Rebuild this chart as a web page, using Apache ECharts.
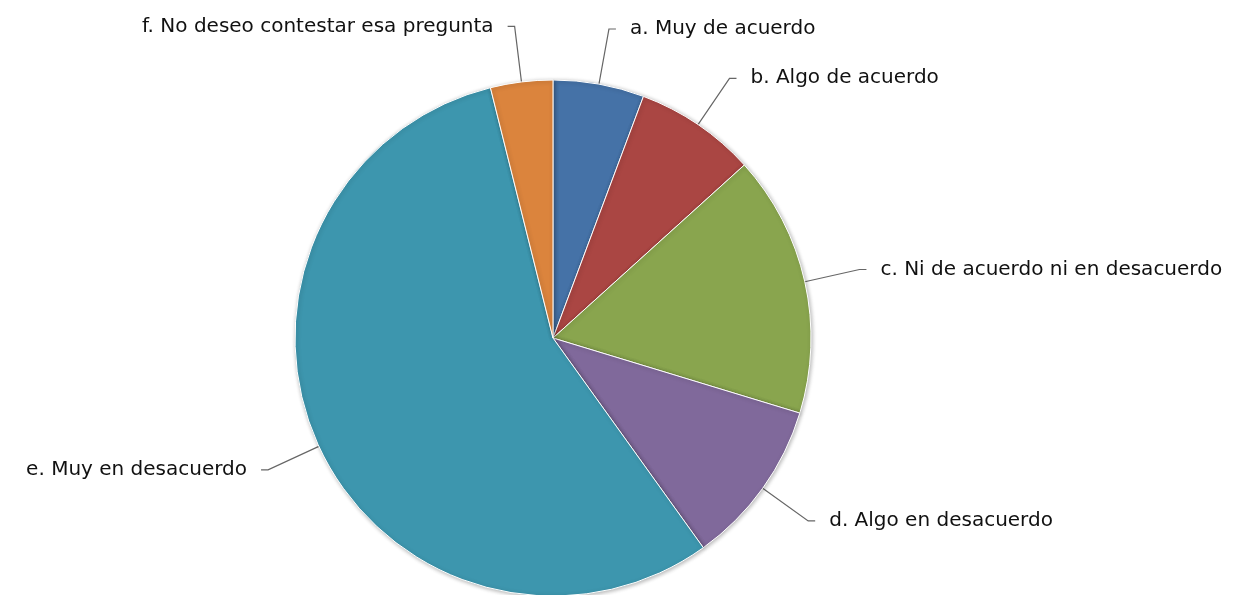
<!DOCTYPE html>
<html>
<head>
<meta charset="utf-8">
<script src="https://cdn.jsdelivr.net/npm/echarts@6/dist/echarts.min.js"></script>
<style>
  html, body { margin: 0; padding: 0; background: #fff; }
  #main { width: 1251px; height: 595px; }
</style>
</head>
<body>
<div id="main"></div>
<script>
// categories and shares (percent)
const categories = [
  'a. Muy de acuerdo',
  'b. Algo de acuerdo',
  'c. Ni de acuerdo ni en desacuerdo',
  'd. Algo en desacuerdo',
  'e. Muy en desacuerdo',
  'f. No deseo contestar esa pregunta'
]
const shares = [5.7, 7.6, 16.4, 10.4, 56.0, 3.9]
const colors = ['#4572A7', '#AA4643', '#89A54E', '#80699B', '#3D96AE', '#DB843D']

const myChart = echarts.init(document.getElementById('main'))
const option = {
  animation: false,
  color: colors,
  series: [
    {
      type: 'pie',
      center: [553, 338],
      radius: 258,
      startAngle: 90,
      clockwise: true,
      avoidLabelOverlap: false,
      data: categories.map((name, i) => ({ name: name, value: shares[i] })),
      itemStyle: {
        borderColor: '#fff',
        borderWidth: 1,
        shadowBlur: 4,
        shadowOffsetX: 1,
        shadowOffsetY: 1,
        shadowColor: 'rgba(0,0,0,0.3)'
      },
      label: {
        show: true,
        formatter: '{b}',
        fontFamily: 'DejaVu Sans',
        fontSize: 20,
        color: '#111',
        distanceToLabelLine: 14
      },
      labelLine: {
        show: true,
        length: 56,
        length2: 7,
        lineStyle: { color: '#666', width: 1.2 }
      }
    }
  ]
}
myChart.setOption(option)
</script>
</body>
</html>
